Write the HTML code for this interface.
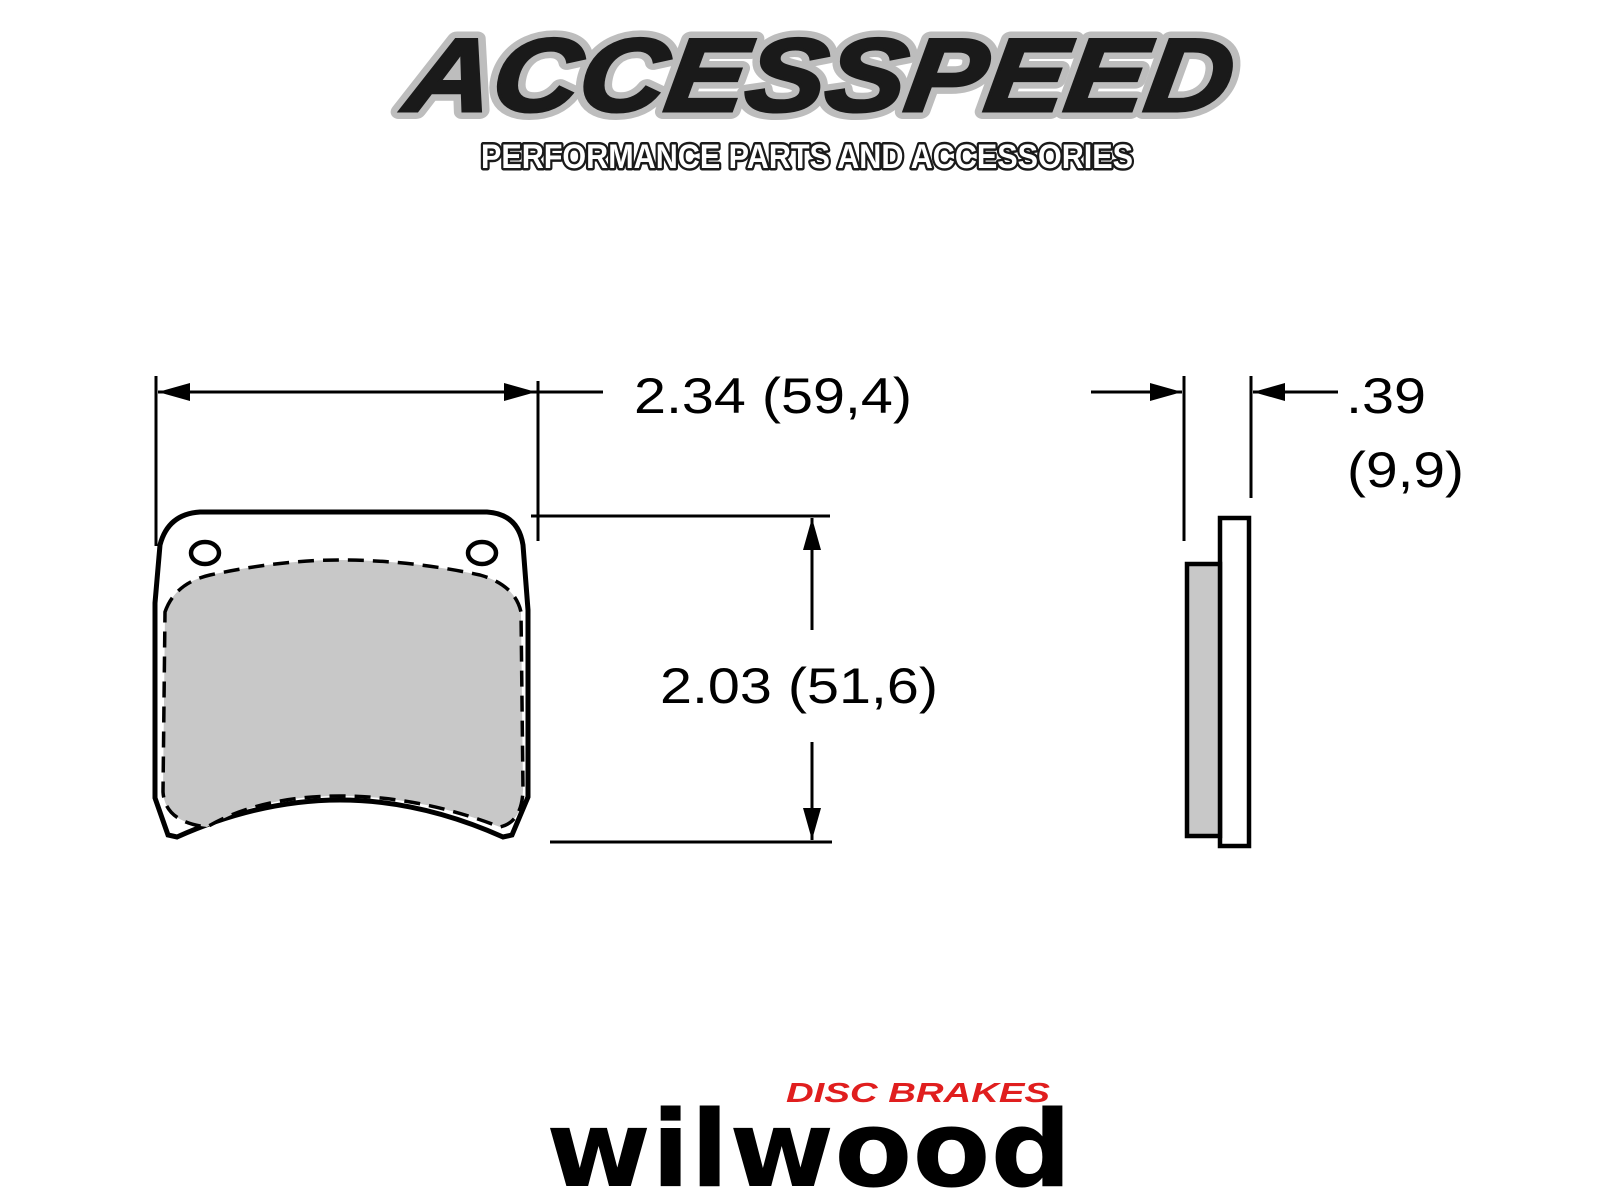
<!DOCTYPE html>
<html><head><meta charset="utf-8"><style>
html,body{margin:0;padding:0;background:#fff;}
svg{display:block;}
</style></head><body>
<svg width="1600" height="1200" viewBox="0 0 1600 1200" xmlns="http://www.w3.org/2000/svg">
<!-- ACCESSPEED logo -->
<g font-family="Liberation Sans, sans-serif" font-weight="bold" font-style="italic">
<text x="404" y="111" font-size="104" textLength="826" lengthAdjust="spacingAndGlyphs" fill="#fff" stroke="#bdbdbd" stroke-width="16" stroke-linejoin="round" transform="skewX(-8) translate(14,0)">ACCESSPEED</text>
<text x="404" y="111" font-size="104" textLength="826" lengthAdjust="spacingAndGlyphs" fill="#1a1a1a" stroke="#1a1a1a" stroke-width="3" transform="skewX(-8) translate(14,0)">ACCESSPEED</text>
<text x="481" y="168" font-size="34" textLength="652" lengthAdjust="spacingAndGlyphs" fill="#fff" stroke="#1a1a1a" stroke-width="5" stroke-linejoin="round" paint-order="stroke" font-style="normal">PERFORMANCE PARTS AND ACCESSORIES</text>
</g>

<!-- Pad front view -->
<path d="M200,512 L487,512 Q518,514 523,545 L528,610 L528,797 L512,835 L503,837 Q420,800 340,800 Q260,800 177,837 L168,835 L155,798 L155,603 L160,545 Q168,514 200,512 Z" fill="#fff" stroke="#000" stroke-width="5"/>
<path d="M165,612 Q175,583 210,575 Q280,560 340,560 Q410,560 480,575 Q515,585 521,612 L523,790 Q522,822 500,827 Q420,796 340,796 Q260,796 207,827 Q165,822 163,792 Z" fill="#c8c8c8" stroke="#000" stroke-width="3.5" stroke-dasharray="16,9"/>
<ellipse cx="205" cy="553" rx="14" ry="11" fill="#fff" stroke="#000" stroke-width="4.5"/>
<ellipse cx="482" cy="553" rx="14" ry="11" fill="#fff" stroke="#000" stroke-width="4.5"/>

<g stroke="#000" stroke-width="3" fill="none">
<line x1="156" y1="376" x2="156" y2="546"/>
<line x1="538" y1="381" x2="538" y2="541"/>
<line x1="158" y1="392" x2="603" y2="392"/>
<line x1="531" y1="516" x2="830" y2="516"/>
<line x1="550" y1="842" x2="832" y2="842"/>
<line x1="812" y1="518" x2="812" y2="630"/>
<line x1="812" y1="742" x2="812" y2="840"/>
<line x1="1184" y1="376" x2="1184" y2="541"/>
<line x1="1251" y1="376" x2="1251" y2="498"/>
<line x1="1091" y1="392" x2="1182" y2="392"/>
<line x1="1253" y1="392" x2="1338" y2="392"/>
</g>
<g fill="#000">
<polygon points="158,392 190,383 190,401"/>
<polygon points="536,392 504,383 504,401"/>
<polygon points="812,518 803,550 821,550"/>
<polygon points="812,840 803,808 821,808"/>
<polygon points="1182,392 1150,383 1150,401"/>
<polygon points="1253,392 1285,383 1285,401"/>
</g>

<!-- side view -->
<rect x="1220" y="518" width="29" height="328" fill="#fff" stroke="#000" stroke-width="4.5"/>
<rect x="1187" y="564" width="33" height="272" fill="#c8c8c8" stroke="#000" stroke-width="4.5"/>

<!-- labels -->
<g font-family="Liberation Sans, sans-serif" font-size="50" fill="#000">
<text x="634" y="413" textLength="278" lengthAdjust="spacingAndGlyphs">2.34 (59,4)</text>
<text x="660" y="703" textLength="278" lengthAdjust="spacingAndGlyphs">2.03 (51,6)</text>
<text x="1346" y="413" textLength="80" lengthAdjust="spacingAndGlyphs">.39</text>
<text x="1347" y="487" textLength="117" lengthAdjust="spacingAndGlyphs">(9,9)</text>
</g>

<!-- wilwood logo -->
<text x="786" y="1102" font-family="Liberation Sans, sans-serif" font-weight="bold" font-style="italic" font-size="28" fill="#e01e1e" textLength="264" lengthAdjust="spacingAndGlyphs">DISC BRAKES</text>
<text x="546" y="1186" font-family="DejaVu Sans, sans-serif" font-weight="bold" font-size="106" fill="#000" textLength="526" lengthAdjust="spacingAndGlyphs">wilwood</text>
</svg>
</body></html>
